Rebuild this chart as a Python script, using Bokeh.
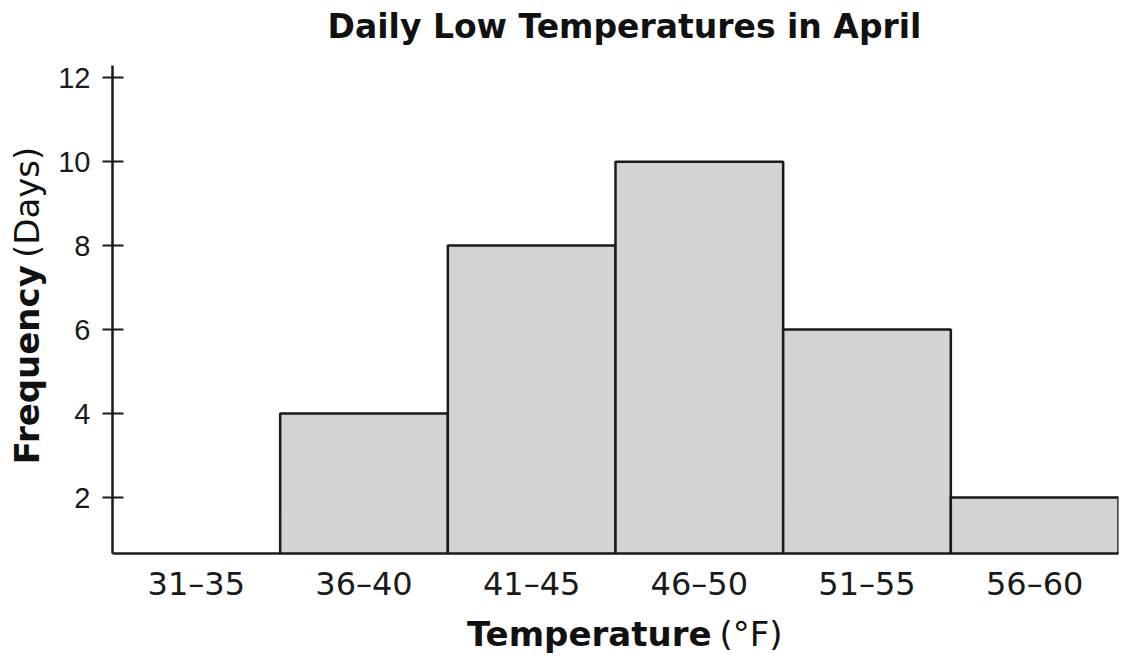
import math
from bokeh.plotting import figure
from bokeh.layouts import column, row
from bokeh.models import Range1d, FixedTicker, Label, ColumnDataSource
from bokeh.embed import file_html
from bokeh.resources import INLINE

# ---- data ----
title_text = "Daily Low Temperatures in April"
x_label_bold, x_label_plain = "Temperature", "(\u00b0F)"
y_label_bold, y_label_plain = "Frequency", "(Days)"
categories = ["31\u201335", "36\u201340", "41\u201345", "46\u201350", "51\u201355", "56\u201360"]
frequency = [0, 4, 8, 10, 6, 2]
y_ticks = [2, 4, 6, 8, 10, 12]

INK = "#1a1a1a"
FONT = "DejaVu Sans"

# ---- main chart ----
left = list(range(len(categories)))
right = [i + 1 for i in left]
src = ColumnDataSource(dict(left=left, right=right, top=frequency, bottom=[0] * len(frequency)))

Y0, Y1 = 0.667, 12.29

p = figure(width=1074, height=550, output_backend="svg", toolbar_location=None,
           x_range=Range1d(0, len(categories)), y_range=Range1d(Y0, Y1),
           min_border_left=62, min_border_right=6, min_border_top=5, min_border_bottom=57)
p.outline_line_color = None
p.xgrid.visible = False
p.ygrid.visible = False

p.quad(left="left", right="right", top="top", bottom="bottom", source=src,
       fill_color="#d3d3d5", line_color=INK, line_width=2.5)

p.xaxis.ticker = FixedTicker(ticks=[i + 0.5 for i in left])
p.xaxis.major_label_overrides = {i + 0.5: c for i, c in enumerate(categories)}
p.xaxis.major_tick_in = 0
p.xaxis.major_tick_out = 0
p.xaxis.minor_tick_line_color = None
p.xaxis.axis_line_width = 2.5
p.xaxis.axis_line_color = INK
p.xaxis.major_label_text_font = FONT
p.xaxis.major_label_text_font_size = "32px"
p.xaxis.major_label_text_color = INK
p.xaxis.major_label_standoff = 11

p.yaxis.ticker = FixedTicker(ticks=y_ticks)
p.yaxis.major_tick_in = 11
p.yaxis.major_tick_out = 10
p.yaxis.major_tick_line_width = 2
p.yaxis.major_tick_line_color = INK
p.yaxis.minor_tick_line_color = None
p.yaxis.axis_line_width = 2.5
p.yaxis.axis_line_color = INK
p.yaxis.major_label_text_font = "Liberation Sans"
p.yaxis.major_label_text_font_size = "29px"
p.yaxis.major_label_text_color = INK
p.yaxis.major_label_standoff = 12


def text_panel(w, h):
    f = figure(width=w, height=h, output_backend="svg", toolbar_location=None,
               x_range=Range1d(0, w), y_range=Range1d(0, h),
               x_axis_location=None, y_axis_location=None, min_border=0)
    f.outline_line_color = None
    f.grid.visible = False
    return f


# title panel (pixel coordinates, y upward)
t = text_panel(1124, 60)
t.add_layout(Label(x=624, y=34, text=title_text, text_font=FONT, text_font_style="bold",
                   text_font_size="33px", text_align="center", text_baseline="alphabetic",
                   text_color="#111111"))

# y label panel
yl = text_panel(50, 550)
yl.add_layout(Label(x=26, y=325, text=y_label_bold, angle=math.pi / 2,
                    text_font=FONT, text_font_style="bold", text_font_size="34px",
                    text_align="right", text_baseline="alphabetic", text_color="#111111"))
yl.add_layout(Label(x=26, y=333, text=y_label_plain, angle=math.pi / 2,
                    text_font=FONT, text_font_size="34px",
                    text_align="left", text_baseline="alphabetic", text_color="#111111"))

# x label panel
xl = text_panel(1124, 46)
xl.add_layout(Label(x=711, y=23, text=x_label_bold, text_font=FONT,
                    text_font_style="bold", text_font_size="34px", text_align="right",
                    text_baseline="alphabetic", text_color="#111111"))
xl.add_layout(Label(x=719, y=23, text=x_label_plain, text_font=FONT,
                    text_font_size="34px", text_align="left",
                    text_baseline="alphabetic", text_color="#111111"))

layout = column(t, row(yl, p, spacing=0), xl, spacing=0)

open("out.html", "w").write(file_html(layout, INLINE))
